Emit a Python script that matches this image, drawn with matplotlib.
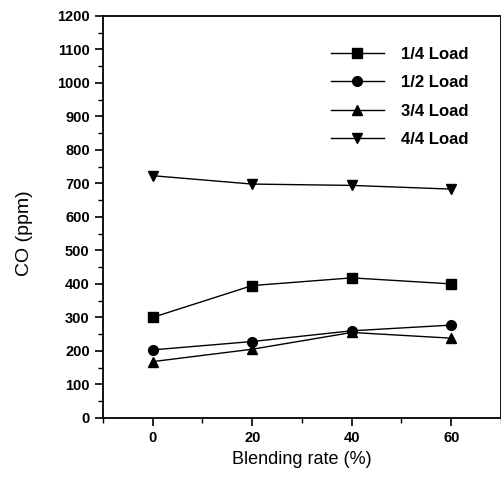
import matplotlib
matplotlib.use("Agg")
import matplotlib.pyplot as plt
from matplotlib.ticker import MultipleLocator

plt.rcParams["font.family"] = ["Liberation Sans", "DejaVu Sans"]

# 数据
blend = [0, 20, 40, 60]
load_labels = ["1/4 Load", "1/2 Load", "3/4 Load", "4/4 Load"]
co_q1 = [300, 395, 418, 400]
co_q2 = [203, 228, 260, 277]
co_q3 = [168, 205, 255, 238]
co_q4 = [723, 698, 694, 683]
markers = ["s", "o", "^", "v"]

fig = plt.figure(figsize=(5.02, 4.82), dpi=100)
ax = fig.add_axes([0.205, 0.133, 0.793, 0.834])

for vals, mk, lab in zip([co_q1, co_q2, co_q3, co_q4], markers, load_labels):
    ax.plot(blend, vals, color="black", lw=1.0, marker=mk, ms=7, label=lab)

ax.set_xlim(-10, 70)
ax.set_ylim(0, 1200)
ax.xaxis.set_major_locator(MultipleLocator(20))
ax.xaxis.set_minor_locator(MultipleLocator(10))
ax.yaxis.set_major_locator(MultipleLocator(100))
ax.yaxis.set_minor_locator(MultipleLocator(50))
ax.tick_params(which="major", direction="out", length=6, width=1.2, labelsize=10.5)
ax.tick_params(which="minor", direction="out", length=3.5, width=1.0)
for lbl in ax.get_xticklabels() + ax.get_yticklabels():
    lbl.set_fontweight("bold")
for s in ax.spines.values():
    s.set_linewidth(1.3)

ax.set_xlabel("Blending rate (%)", fontsize=13)
ax.set_ylabel("CO (ppm)", fontsize=14)
ax.yaxis.set_label_coords(-0.175, 0.46)

leg = ax.legend(loc="upper right", bbox_to_anchor=(0.955, 0.96), frameon=False,
                handlelength=3.2, handletextpad=1.0, labelspacing=0.8,
                prop={"weight": "bold", "size": 12})

plt.savefig("out.png", dpi=100)
